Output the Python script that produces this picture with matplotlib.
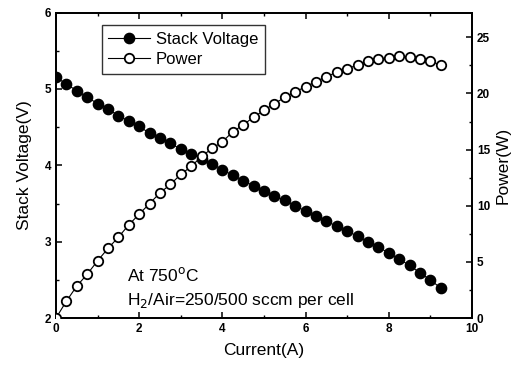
import matplotlib
matplotlib.use("Agg")
import matplotlib.pyplot as plt
import numpy as np

plt.rcParams["font.family"] = ["Liberation Sans", "DejaVu Sans"]

# Current steps (A), 0 to 9.25 in 0.25 A increments
current = [0.0, 0.25, 0.5, 0.75, 1.0, 1.25, 1.5, 1.75, 2.0, 2.25,
           2.5, 2.75, 3.0, 3.25, 3.5, 3.75, 4.0, 4.25, 4.5, 4.75,
           5.0, 5.25, 5.5, 5.75, 6.0, 6.25, 6.5, 6.75, 7.0, 7.25,
           7.5, 7.75, 8.0, 8.25, 8.5, 8.75, 9.0, 9.25]

stack_voltage = [5.16, 5.06, 4.98, 4.89, 4.81, 4.74, 4.65, 4.58, 4.51, 4.42,
                 4.36, 4.29, 4.21, 4.15, 4.08, 4.02, 3.94, 3.87, 3.80, 3.73,
                 3.66, 3.60, 3.54, 3.47, 3.40, 3.33, 3.27, 3.20, 3.14, 3.07,
                 3.00, 2.93, 2.85, 2.77, 2.69, 2.59, 2.50, 2.39]

power = [0.0, 1.5, 2.85, 3.9, 5.1, 6.2, 7.2, 8.3, 9.25, 10.2,
         11.15, 11.9, 12.8, 13.5, 14.4, 15.1, 15.7, 16.6, 17.2, 17.9,
         18.5, 19.1, 19.65, 20.15, 20.6, 21.05, 21.5, 21.9, 22.2, 22.55,
         22.85, 23.05, 23.2, 23.3, 23.25, 23.05, 22.85, 22.55]

fig = plt.figure(figsize=(5.21, 3.67), dpi=100)
ax = fig.add_axes([0.1075, 0.1335, 0.7985, 0.832])
ax2 = ax.twinx()

h1, = ax.plot(current, stack_voltage, "-o", color="black", lw=0.8,
              ms=7.4, mfc="black", mec="black", label="Stack Voltage",
              zorder=3)
h2, = ax2.plot(current, power, "-o", color="black", lw=0.8,
               ms=6.8, mfc="white", mec="black", mew=1.3, label="Power",
               zorder=3)

ax.set_xlim(0, 10)
ax.set_ylim(2, 6)
ax2.set_ylim(0, 27.2)

ax.set_xticks(np.arange(0, 11, 2))
ax.set_xticks(np.arange(1, 10, 2), minor=True)
ax.set_yticks(np.arange(2, 7, 1))
ax.set_yticks(np.arange(2.5, 6, 1), minor=True)
ax2.set_yticks(np.arange(0, 26, 5))
ax2.set_yticks(np.arange(2.5, 27, 5), minor=True)

for a in (ax, ax2):
    a.tick_params(which="major", direction="in", length=4, width=1.1,
                  labelsize=8.5)
    a.tick_params(which="minor", direction="in", length=2.5, width=1.0)
    for lab in a.get_xticklabels() + a.get_yticklabels():
        lab.set_fontweight("bold")
    for s in a.spines.values():
        s.set_linewidth(1.3)
ax.tick_params(which="both", top=True)

ax.set_xlabel("Current(A)", fontsize=12.5, labelpad=6)
ax.set_ylabel("Stack Voltage(V)", fontsize=12.5, labelpad=9)
ax2.set_ylabel("Power(W)", fontsize=12.5, labelpad=4)

ax.text(1.7, 2.48, "At 750$^{\\rm o}$C", fontsize=12.5)
ax.text(1.7, 2.17, "H$_2$/Air=250/500 sccm per cell", fontsize=12.5)

leg = ax.legend([h1, h2], ["Stack Voltage", "Power"], loc="upper left",
                bbox_to_anchor=(0.11, 0.958), fontsize=12, frameon=True,
                fancybox=False, edgecolor="black", handlelength=2.5,
                handletextpad=0.35, borderpad=0.4, labelspacing=0.3,
                borderaxespad=0)
leg.get_frame().set_linewidth(1.0)
leg.set_zorder(5)

fig.savefig("out.png", dpi=100)
